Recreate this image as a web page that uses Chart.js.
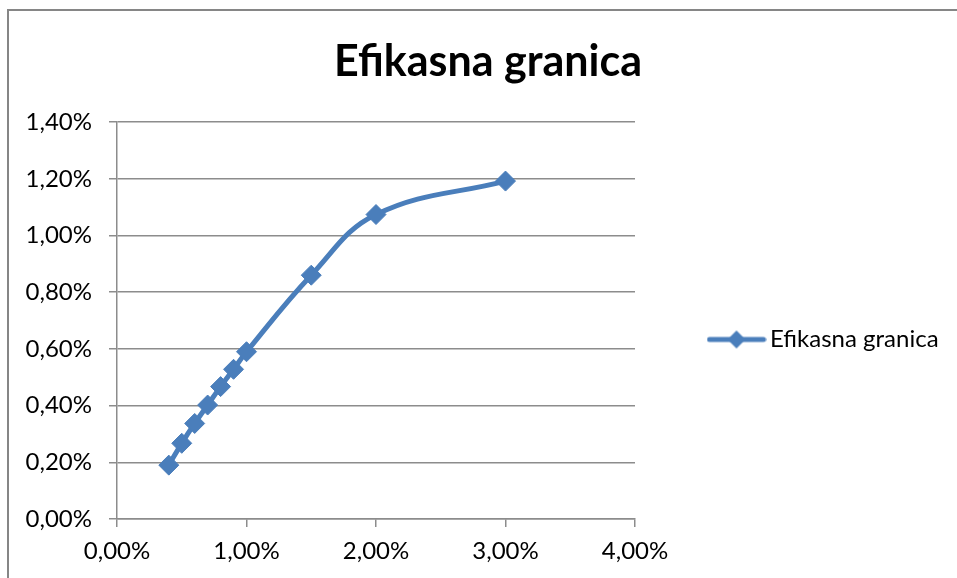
<!DOCTYPE html>
<html><head><meta charset="utf-8">
<script src="https://cdn.jsdelivr.net/npm/chart.js@4.4.1/dist/chart.umd.min.js"></script>
<style>
html,body{margin:0;padding:0;background:#fff;overflow:hidden;width:957px;height:578px;}
#frame{position:absolute;left:7px;top:9px;width:960px;height:569px;border-left:2px solid #868686;border-top:2px solid #868686;}
canvas{display:block;}
</style></head><body>
<div id="frame"><canvas id="c" width="958" height="567"></canvas></div>
<script>
const chartTitle = 'Efikasna granica';
const seriesName = 'Efikasna granica';
const riskX = [0.4, 0.5, 0.6, 0.7, 0.8, 0.9, 1.0, 1.5, 2.0, 3.0];
const returnY = [0.19, 0.267, 0.337, 0.402, 0.467, 0.528, 0.59, 0.86, 1.074, 1.192];
const xTickLabels = ['0,00%', '1,00%', '2,00%', '3,00%', '4,00%'];
const yTickLabels = ['0,00%', '0,20%', '0,40%', '0,60%', '0,80%', '1,00%', '1,20%', '1,40%'];

const BLUE = '#4A7EBB';
const GRID = '#8c8c8c';
const FONT = 'Lato';

// legend icon: line with diamond
const icon = document.createElement('canvas');
icon.width = 60; icon.height = 22;
(function(){
  const g = icon.getContext('2d');
  g.strokeStyle = BLUE; g.lineWidth = 5; g.lineCap = 'round';
  g.beginPath(); g.moveTo(3, 11); g.lineTo(57, 11); g.stroke();
  g.fillStyle = BLUE;
  g.beginPath(); g.moveTo(30, 2); g.lineTo(39, 11); g.lineTo(30, 20); g.lineTo(21, 11); g.closePath(); g.fill();
})();

const LEGEND_W = 332;
const legendFix = {
  id: 'legendFix',
  afterInit(chart) {
    const lg = chart.legend;
    const orig = lg.fit.bind(lg);
    lg.fit = function() { orig(); this.width = LEGEND_W; };
  },
  afterLayout(chart) {
    const lg = chart.legend;
    const w = lg.right - lg.left;
    lg.left = 696; lg.right = lg.left + w;
    lg.top += 45; lg.bottom += 45;
  }
};

const points = riskX.map((x, i) => ({ x: x, y: returnY[i] }));

new Chart(document.getElementById('c'), {
  type: 'line',
  data: {
    datasets: [{
      label: seriesName,
      data: points,
      borderColor: BLUE,
      backgroundColor: BLUE,
      borderWidth: 5,
      pointStyle: 'rectRot',
      pointRadius: 10,
      pointHoverRadius: 10,
      pointBackgroundColor: BLUE,
      pointBorderColor: BLUE,
      pointBorderWidth: 1,
      tension: 0.4,
      fill: false
    }]
  },
  plugins: [legendFix],
  options: {
    responsive: false,
    animation: false,
    layout: { padding: 0 },
    plugins: {
      title: {
        display: true,
        text: chartTitle,
        color: '#000',
        font: { family: FONT, size: 43, weight: 'bold', lineHeight: 1.2 },
        padding: { top: 25.5, bottom: 34 }
      },
      legend: {
        display: true,
        position: 'right',
        labels: {
          usePointStyle: true,
          pointStyle: icon,
          pointStyleWidth: 43,
          color: '#000',
          font: { family: FONT, size: 24 },
          padding: 10
        }
      },
      tooltip: { enabled: false }
    },
    scales: {
      x: {
        type: 'linear',
        min: 0, max: 4,
        afterFit(s) { s.height = 59; },
        ticks: {
          stepSize: 1,
          color: '#000',
          font: { family: FONT, size: 24 },
          padding: 10,
          callback: (v, i) => xTickLabels[i]
        },
        grid: { drawOnChartArea: false, drawTicks: true, tickLength: 8, color: GRID, lineWidth: 1.5 },
        border: { display: true, color: GRID, width: 1.5 }
      },
      y: {
        type: 'linear',
        min: 0, max: 1.4,
        afterFit(s) { s.width = 108; },
        ticks: {
          stepSize: 0.2,
          color: '#000',
          font: { family: FONT, size: 24 },
          padding: 17,
          callback: (v, i) => yTickLabels[i]
        },
        grid: { drawOnChartArea: true, drawTicks: true, tickLength: 8, color: GRID, lineWidth: 1.5 },
        border: { display: true, color: GRID, width: 1.5 }
      }
    }
  }
});
</script>
</body></html>
